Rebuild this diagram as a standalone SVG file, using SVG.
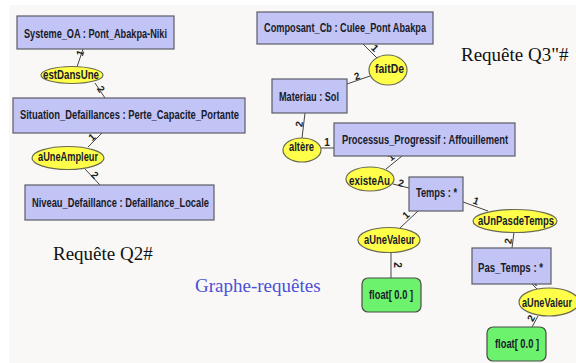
<svg xmlns="http://www.w3.org/2000/svg" width="576" height="363" viewBox="0 0 576 363">
<defs>
<style>
.box{fill:#c1c4f4;stroke:#5c5c66;stroke-width:1.2}
.lit{fill:#6cf26c;stroke:#4a4a4a;stroke-width:1.2}
.rel{fill:#ffff4a;stroke:#6a6a50;stroke-width:1.2}
.t{font-family:"Liberation Sans",Arial,sans-serif;font-size:12px;font-weight:bold;fill:#1a1a2a}
.lbl{font-family:"Liberation Sans",Arial,sans-serif;font-size:10px;font-weight:bold;fill:#222;text-anchor:middle;dominant-baseline:central}
.cap{font-family:"Liberation Serif","Times New Roman",serif;font-size:19px}
.edge{stroke:#444;stroke-width:1;fill:none}
</style>
</defs>
<rect x="0" y="0" width="576" height="363" fill="#ffffff"/>
<rect x="9" y="5" width="567" height="358" fill="#f9f8f6"/>

<g id="connectors">
<line class="edge" x1="83" y1="49" x2="77" y2="67"/>
<line class="edge" x1="95" y1="83" x2="105" y2="98"/>
<line class="edge" x1="102" y1="133" x2="88" y2="147"/>
<line class="edge" x1="85" y1="169" x2="100" y2="185"/>
<line class="edge" x1="363" y1="44" x2="377" y2="58"/>
<line class="edge" x1="370" y1="76" x2="347" y2="84"/>
<line class="edge" x1="305" y1="113" x2="302" y2="138"/>
<line class="edge" x1="321" y1="148" x2="334" y2="148"/>
<line class="edge" x1="402" y1="156" x2="386" y2="169"/>
<line class="edge" x1="393" y1="184" x2="409" y2="188"/>
<line class="edge" x1="418" y1="211" x2="400" y2="228"/>
<line class="edge" x1="391" y1="253" x2="391" y2="278"/>
<line class="edge" x1="463" y1="202" x2="488" y2="211"/>
<line class="edge" x1="514" y1="232" x2="512" y2="248"/>
<line class="edge" x1="532" y1="284" x2="538" y2="290"/>
<line class="edge" x1="538" y1="316" x2="532" y2="327"/>
<text class="lbl" x="80" y="53" transform="rotate(-72 80 53)">1</text>
<text class="lbl" x="101" y="89" transform="rotate(56 101 89)">2</text>
<text class="lbl" x="92" y="137" transform="rotate(-43 92 137)">1</text>
<text class="lbl" x="95" y="175" transform="rotate(45 95 175)">2</text>
<text class="lbl" x="375" y="48" transform="rotate(45 375 48)">1</text>
<text class="lbl" x="357" y="76" transform="rotate(-19 357 76)">2</text>
<text class="lbl" x="299" y="124" transform="rotate(-83 299 124)">2</text>
<text class="lbl" x="327" y="142">1</text>
<text class="lbl" x="391" y="157" transform="rotate(-39 391 157)">1</text>
<text class="lbl" x="401" y="183" transform="rotate(14 401 183)">2</text>
<text class="lbl" x="406" y="215" transform="rotate(-43 406 215)">1</text>
<text class="lbl" x="397" y="265" transform="rotate(90 397 265)">2</text>
<text class="lbl" x="476" y="201" transform="rotate(20 476 201)">1</text>
<text class="lbl" x="508" y="241" transform="rotate(-83 508 241)">2</text>
<text class="lbl" x="537" y="282" transform="rotate(45 537 282)">1</text>
<text class="lbl" x="531" y="318" transform="rotate(-61 531 318)">2</text>
</g>

<g id="n-systeme"><rect class="box" x="17" y="16" width="157" height="33"/><text class="t" x="24" y="38" textLength="143" lengthAdjust="spacingAndGlyphs">Systeme_OA : Pont_Abakpa-Niki</text></g>
<g id="n-estDansUne"><ellipse class="rel" cx="72" cy="75" rx="31" ry="8.5"/><text class="t" x="43" y="79" textLength="56" lengthAdjust="spacingAndGlyphs">estDansUne</text></g>
<g id="n-situation"><rect class="box" x="13" y="98" width="232" height="35"/><text class="t" x="20" y="119" textLength="219" lengthAdjust="spacingAndGlyphs">Situation_Defaillances : Perte_Capacite_Portante</text></g>
<g id="n-aUneAmpleur"><ellipse class="rel" cx="68" cy="158" rx="36" ry="11.5"/><text class="t" x="38" y="161" textLength="60" lengthAdjust="spacingAndGlyphs">aUneAmpleur</text></g>
<g id="n-niveau"><rect class="box" x="25" y="185" width="189" height="35"/><text class="t" x="32" y="207" textLength="177" lengthAdjust="spacingAndGlyphs">Niveau_Defaillance : Defaillance_Locale</text></g>

<g id="n-composant"><rect class="box" x="257" y="12" width="176" height="32"/><text class="t" x="264" y="32" textLength="162" lengthAdjust="spacingAndGlyphs">Composant_Cb : Culee_Pont Abakpa</text></g>
<g id="n-faitDe"><ellipse class="rel" cx="388" cy="70" rx="19" ry="15"/><text class="t" x="375" y="73" textLength="29" lengthAdjust="spacingAndGlyphs">faitDe</text></g>
<g id="n-materiau"><rect class="box" x="272" y="79" width="75" height="34"/><text class="t" x="279" y="101" textLength="60" lengthAdjust="spacingAndGlyphs">Materiau : Sol</text></g>
<g id="n-altere"><ellipse class="rel" cx="302" cy="150" rx="19" ry="12"/><text class="t" x="289" y="151" textLength="25" lengthAdjust="spacingAndGlyphs">altère</text></g>
<g id="n-processus"><rect class="box" x="334" y="123" width="181" height="33"/><text class="t" x="342" y="144" textLength="166" lengthAdjust="spacingAndGlyphs">Processus_Progressif : Affouillement</text></g>
<g id="n-existeAu"><ellipse class="rel" cx="370" cy="179" rx="24" ry="12"/><text class="t" x="349" y="185" textLength="41" lengthAdjust="spacingAndGlyphs">existeAu</text></g>
<g id="n-temps"><rect class="box" x="409" y="177" width="54" height="34"/><text class="t" x="416" y="197" textLength="41" lengthAdjust="spacingAndGlyphs">Temps : *</text></g>
<g id="n-aUneValeur1"><ellipse class="rel" cx="389" cy="240" rx="31" ry="12.5"/><text class="t" x="364" y="244" textLength="51" lengthAdjust="spacingAndGlyphs">aUneValeur</text></g>
<g id="n-float1"><rect class="lit" x="362" y="278" width="59" height="34" rx="6"/><text class="t" x="369" y="299" textLength="44" lengthAdjust="spacingAndGlyphs">float[ 0.0 ]</text></g>
<g id="n-aUnPasdeTemps"><ellipse class="rel" cx="515" cy="221" rx="42" ry="11.5"/><text class="t" x="478" y="225" textLength="76" lengthAdjust="spacingAndGlyphs">aUnPasdeTemps</text></g>
<g id="n-pasTemps"><rect class="box" x="472" y="248" width="79" height="36"/><text class="t" x="478" y="272" textLength="65" lengthAdjust="spacingAndGlyphs">Pas_Temps : *</text></g>
<g id="n-aUneValeur2"><ellipse class="rel" cx="549" cy="302" rx="30" ry="14"/><text class="t" x="522" y="307" textLength="50" lengthAdjust="spacingAndGlyphs">aUneValeur</text></g>
<g id="n-float2"><rect class="lit" x="487" y="327" width="59" height="34" rx="6"/><text class="t" x="495" y="348" textLength="44" lengthAdjust="spacingAndGlyphs">float[ 0.0 ]</text></g>

<text class="cap" x="53" y="260" fill="#111">Requête Q2#</text>
<text class="cap" x="195" y="292" fill="#4b50d6">Graphe-requêtes</text>
<text class="cap" x="461" y="61" fill="#111">Requête Q3&quot;#</text>
</svg>
